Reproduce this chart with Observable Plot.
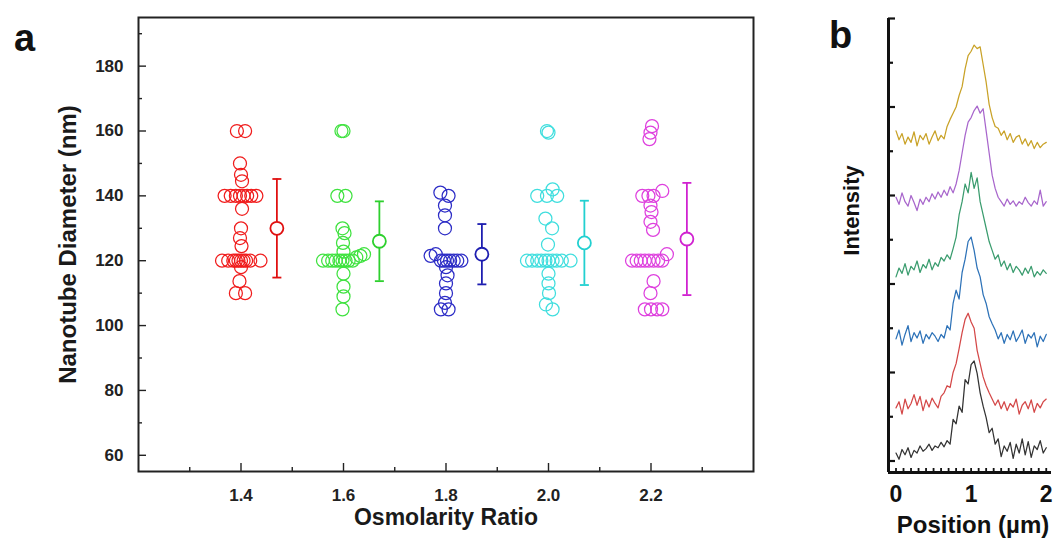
<!DOCTYPE html>
<html><head><meta charset="utf-8">
<script src="https://cdn.jsdelivr.net/npm/d3@7"></script>
<script src="https://cdn.jsdelivr.net/npm/@observablehq/plot@0.6"></script>
<style>
body{margin:0;background:#fff;}
#wrap{position:relative;width:1057px;height:549px;overflow:hidden;font-family:"Liberation Sans",Arial,sans-serif;background:#fff;}
#pa,#pb{position:absolute;top:0;}
#pa{left:0}
#pb{left:820px}
.plabel{position:absolute;font-weight:bold;font-size:38px;color:#111;line-height:1;}
</style></head><body>
<div id="wrap"><div id="pa"></div><div id="pb"></div>
<div class="plabel" style="left:14px;top:19px">a</div>
<div class="plabel" style="left:829px;top:16px">b</div></div>
<script>
// ---------- Panel a data ----------
const groups = [1.4, 1.6, 1.8, 2.0, 2.2];
const groupColors = ["#f01c1c", "#3fe23f", "#2c2cc6", "#3fdede", "#de40de"];
const barColors = ["#e01010", "#2ed02e", "#1e1eb0", "#22d0d0", "#d022d0"];
const yMajorTicks = [60, 80, 100, 120, 140, 160, 180];
const yMinorTicks = [70, 90, 110, 130, 150, 170, 190];
const xMinorTicks = [1.3, 1.5, 1.7, 1.9, 2.1, 2.3];

// group 1.4 (red)
const pos14 = [1.392,1.408, 1.398,1.400,1.402, 1.368,1.380,1.390,1.398,1.405,1.412,1.420,1.430, 1.402, 1.400,1.398,1.401,
  1.363,1.375,1.385,1.390,1.395,1.400,1.405,1.410,1.418,1.438, 1.400,1.397, 1.390,1.408];
const dia14 = [160,160, 150,146.5,144.5, 140,140,140,140,140,140,140,140, 136, 130,127,124.5,
  120,120,120,120,120,120,120,120,120,120, 118,113.7, 110,110];
// group 1.6 (green)
const pos16 = [1.596,1.600, 1.588,1.604, 1.598,1.602, 1.599,1.600,
  1.560,1.570,1.578,1.585,1.592,1.598,1.604,1.610,1.618,1.625,1.633,1.640, 1.600,1.600,1.600,1.598];
const dia16 = [160,160, 140,140, 130,128.5, 125.5,122.8,
  120,120,120,120,120,120,120,120,120,121,121.5,122, 116,112,109,105];
// group 1.8 (blue)
const pos18 = [1.789,1.805, 1.798,1.798,1.798,
  1.770,1.780,1.790,1.796,1.802,1.808,1.815,1.822,1.830, 1.800,1.803,1.800,1.800,1.798,1.790,1.805];
const dia18 = [141,140, 137,134,130,
  121.5,122,120,120,120,120,120,120,120, 118,115.5,113,110,107,105,105];
// group 2.0 (cyan)
const pos20 = [1.997,2.000, 1.978,1.997,2.017,2.008, 1.994,2.007,1.999,
  1.958,1.968,1.978,1.986,1.994,2.000,2.008,2.016,2.026,2.043, 2.000,2.000,2.001,1.995,2.008];
const dia20 = [160,159.5, 140,140,140,142, 133,130,125,
  120,120,120,120,120,120,120,120,120,120, 116,113,110,106.5,105];
// group 2.2 (magenta)
const pos22 = [2.202,2.199,2.197, 2.183,2.195,2.205,2.222, 2.199,2.201,2.199,2.204,
  2.163,2.172,2.180,2.188,2.196,2.205,2.214,2.222,2.231, 2.205,2.199, 2.188,2.200,2.212,2.222];
const dia22 = [161.5,159.5,157.5, 140,140,140,141.5, 137,135,132,129.5,
  120,120,120,120,120,120,120,120,122, 113.7,110, 105,105,105,105];

const meanPos = [1.47, 1.67, 1.87, 2.07, 2.27];
const means = [130, 126, 122, 125.5, 126.7];
const sds = [15.2, 12.3, 9.3, 13, 17.3];

// ---------- Panel b data ----------
const positions = [0,0.04,0.08,0.12,0.16,0.2,0.24,0.28,0.32,0.36,0.4,0.44,0.48,0.52,0.56,0.6,0.64,0.68,0.72,0.76,
  0.8,0.84,0.88,0.92,0.96,1,1.04,1.08,1.12,1.16,1.2,1.24,1.28,1.32,1.36,1.4,1.44,1.48,1.52,1.56,
  1.6,1.64,1.68,1.72,1.76,1.8,1.84,1.88,1.92,1.96,2];
const profile1 = [0.02,-0.05,0.06,0.00,0.08,-0.03,0.05,0.02,0.10,0.04,
  0.07,0.12,0.05,0.10,0.08,0.14,0.09,0.16,0.12,0.40,
  0.35,0.55,0.48,0.85,0.80,1.02,1.06,0.92,0.70,0.55,
  0.42,0.25,0.30,0.12,0.18,-0.02,0.10,0.04,0.14,-0.04,
  0.12,0.02,0.18,0.00,0.15,-0.03,0.10,0.06,0.16,0.02,0.08];
const profile2 = [0.05,0.12,-0.02,0.15,0.04,0.10,0.20,0.08,0.18,0.02,
  0.14,0.06,0.16,0.10,0.05,0.18,0.22,0.30,0.28,0.45,
  0.55,0.72,0.90,1.05,1.12,1.02,0.95,0.70,0.55,0.40,
  0.30,0.22,0.15,0.08,0.14,0.04,0.12,0.02,0.10,0.06,
  0.15,-0.02,0.08,0.12,0.04,0.14,0.00,0.10,0.05,0.12,0.15];
const profile3 = [0.05,0.15,-0.02,0.10,0.20,0.02,0.12,0.06,0.14,0.00,
  0.10,0.05,0.12,0.08,0.02,0.10,0.06,0.20,0.15,0.45,
  0.60,0.50,0.80,0.95,1.15,1.20,1.05,0.85,0.75,0.55,
  0.45,0.30,0.22,0.15,0.05,0.12,0.00,0.10,0.04,0.14,
  0.02,0.08,0.15,0.00,0.10,0.06,0.12,-0.04,0.08,0.02,0.10];
const profile4 = [0.00,0.10,0.04,0.15,0.02,0.12,0.08,0.18,0.05,0.14,
  0.10,0.20,0.08,0.16,0.12,0.22,0.18,0.25,0.20,0.32,
  0.45,0.70,0.85,1.05,0.95,1.18,1.00,1.12,0.85,0.70,
  0.55,0.40,0.30,0.20,0.25,0.12,0.18,0.08,0.15,0.05,
  0.12,0.08,0.02,0.10,0.04,0.12,0.00,0.06,0.02,0.08,0.04];
const profile5 = [0.10,0.02,0.15,0.05,0.00,0.12,0.04,-0.05,0.08,0.02,
  0.10,0.05,0.14,0.08,0.16,0.10,0.18,0.12,0.22,0.15,
  0.25,0.40,0.60,0.80,0.95,1.00,1.08,1.13,1.05,1.10,
  0.85,0.60,0.35,0.20,0.10,0.05,0.00,0.08,0.02,0.06,
  0.00,0.05,0.02,0.10,0.04,0.00,0.06,0.02,0.18,0.00,0.05];
const profile6 = [0.15,0.05,0.12,0.00,0.08,0.02,0.14,-0.02,0.10,0.05,
  0.12,0.00,0.08,0.15,0.04,0.10,0.06,0.20,0.28,0.35,
  0.42,0.55,0.65,0.85,1.00,1.05,1.12,1.08,1.10,0.90,
  0.70,0.45,0.30,0.20,0.18,0.10,0.15,0.05,0.12,0.02,
  0.08,0.10,0.00,0.06,-0.02,0.04,-0.05,0.02,-0.04,0.00,0.02];
const traceNames = ["profile 1", "profile 2", "profile 3", "profile 4", "profile 5", "profile 6"];
const traceColors = ["#333333", "#d44848", "#2d72b8", "#3a9c6e", "#a866cc", "#c9a227"];
const traceOffsets = [0.07, 0.55, 1.33, 2.08, 2.88, 3.58];
const intensityMajor = [0, 1, 2, 3, 4, 5];
const intensityMinor = [0.5, 1.5, 2.5, 3.5, 4.5];
const positionTicks = [0,0.1,0.2,0.3,0.4,0.5,0.6,0.7,0.8,0.9,1,1.1,1.2,1.3,1.4,1.5,1.6,1.7,1.8,1.9,2];

// ---------- build tables ----------
const pointSets = [[pos14, dia14], [pos16, dia16], [pos18, dia18], [pos20, dia20], [pos22, dia22]];
const points = [];
pointSets.forEach(([ps, ds], gi) => ps.forEach((p, i) => points.push({g: groups[gi], x: p, y: ds[i]})));
const stats = groups.map((g, i) => ({g, x: meanPos[i], m: means[i], lo: means[i] - sds[i], hi: means[i] + sds[i]}));
const capSymbol = {draw(ctx, size) { const w = 4.5; ctx.moveTo(-w, 0); ctx.lineTo(w, 0); }};

const profiles = [profile1, profile2, profile3, profile4, profile5, profile6];
const traces = [];
profiles.forEach((pr, k) => pr.forEach((v, i) => traces.push({s: traceNames[k], x: positions[i], y: v + traceOffsets[k]})));

const font = "'Liberation Sans', Arial, sans-serif";

// ---------- Panel a ----------
const WA = 780, HA = 549, mL = 138, mR = 27, mT = 17, mB = 78;
const fw = WA - mL - mR, fh = HA - mT - mB;
const plotA = Plot.plot({
  width: WA, height: HA,
  marginLeft: mL, marginRight: mR, marginTop: mT, marginBottom: mB,
  x: {domain: [1.2, 2.4]},
  y: {domain: [55, 195]},
  color: {domain: groups, range: groupColors},
  style: {fontFamily: font, fontWeight: "bold", fontSize: "17px", color: "#222", background: "white", overflow: "visible"},
  marks: [
    Plot.axisX({ticks: groups, tickFormat: d3.format(".1f"), tickSize: 0, tickPadding: 17, label: null, fontSize: 17}),
    Plot.axisY({ticks: yMajorTicks, tickSize: 0, tickPadding: 15, label: null, fontSize: 17}),
    Plot.tickX(groups, {x: d => d, insetTop: fh - 8, stroke: "#222", strokeWidth: 1.4}),
    Plot.tickX(xMinorTicks, {x: d => d, insetTop: fh - 4, stroke: "#222", strokeWidth: 1.4}),
    Plot.tickY(yMajorTicks, {y: d => d, insetRight: fw - 8, stroke: "#222", strokeWidth: 1.4}),
    Plot.tickY(yMinorTicks, {y: d => d, insetRight: fw - 4, stroke: "#222", strokeWidth: 1.4}),
    Plot.frame({stroke: "#222", strokeWidth: 2}),
    Plot.dot(points, {x: "x", y: "y", r: 6.5, stroke: "g", strokeWidth: 1.25, fill: "none"}),
    Plot.ruleX(stats, {x: "x", y1: "lo", y2: "hi", stroke: (d, i) => barColors[i], strokeWidth: 1.8}),
    Plot.dot(stats, {x: "x", y: "lo", symbol: capSymbol, stroke: (d, i) => barColors[i], strokeWidth: 1.8}),
    Plot.dot(stats, {x: "x", y: "hi", symbol: capSymbol, stroke: (d, i) => barColors[i], strokeWidth: 1.8}),
    Plot.dot(stats, {x: "x", y: "m", r: 6.5, stroke: (d, i) => barColors[i], fill: "white", strokeWidth: 1.8}),
    Plot.text(["Osmolarity Ratio"], {frameAnchor: "bottom", dy: 53, fontSize: 23, fontWeight: "bold", fill: "#1a1a1a"}),
    Plot.text(["Nanotube Diameter (nm)"], {frameAnchor: "left", textAnchor: "middle", rotate: -90, dx: -70, fontSize: 24, fontWeight: "bold", fill: "#1a1a1a"})
  ]
});
document.getElementById("pa").appendChild(plotA);

// ---------- Panel b ----------
const WB = 237, HB = 549, bL = 68, bR = 6, bT = 18, bB = 77;
const bw = WB - bL - bR, bh = HB - bT - bB;
const plotB = Plot.plot({
  width: WB, height: HB,
  marginLeft: bL, marginRight: bR, marginTop: bT, marginBottom: bB,
  x: {domain: [-0.1, 2.07]},
  y: {domain: [-0.13, 5], axis: null},
  color: {domain: traceNames, range: traceColors},
  style: {fontFamily: font, fontWeight: "bold", fontSize: "23px", color: "#111", background: "white", overflow: "visible"},
  marks: [
    Plot.axisX({ticks: [0, 1, 2], tickFormat: d3.format("d"), tickSize: 0, tickPadding: 13, label: null, fontSize: 23}),
    Plot.line(traces, {x: "x", y: "y", z: "s", stroke: "s", strokeWidth: 1.25}),
    Plot.tickY(intensityMajor, {y: d => d, insetRight: bw - 7, stroke: "#111", strokeWidth: 2.2}),
    Plot.tickY(intensityMinor, {y: d => d, insetRight: bw - 5, stroke: "#111", strokeWidth: 2.2}),
    Plot.tickX(positionTicks, {x: d => d, insetTop: bh - 4, stroke: "#111", strokeWidth: 1.8}),
    Plot.ruleX([-0.1], {x: d => d, stroke: "#111", strokeWidth: 3}),
    Plot.ruleY([-0.13], {y: d => d, stroke: "#111", strokeWidth: 3}),
    Plot.text(["Position (\u00b5m)"], {frameAnchor: "bottom", dy: 60, dx: 3, fontSize: 24, fontWeight: "bold", fill: "#111"}),
    Plot.text(["Intensity"], {frameAnchor: "left", textAnchor: "middle", rotate: -90, dx: -37, dy: -35, fontSize: 22, fontWeight: "bold", fill: "#111"})
  ]
});
document.getElementById("pb").appendChild(plotB);
</script>
</body></html>
